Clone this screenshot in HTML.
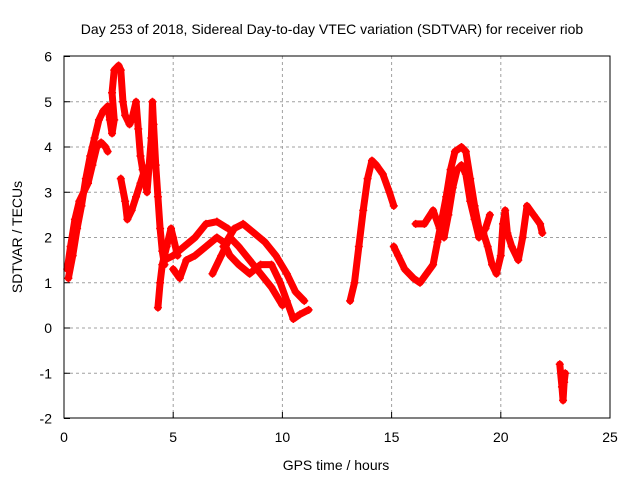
<!DOCTYPE html>
<html><head><meta charset="utf-8"><style>
body{margin:0;background:#fff;}
svg{display:block;font-family:"Liberation Sans",sans-serif;}
</style></head><body>
<svg id="chart" width="640" height="480" viewBox="0 0 640 480">
<text x="332" y="34" font-size="14" text-anchor="middle">Day 253 of 2018, Sidereal Day-to-day VTEC variation (SDTVAR) for receiver riob</text>
<text x="336" y="470" font-size="14" text-anchor="middle">GPS time / hours</text>
<text transform="translate(22,237) rotate(-90)" font-size="14" text-anchor="middle">SDTVAR / TECUs</text>
<g id="grid"></g>
<g id="ticks"></g>
<g id="series"></g>
<rect x="64" y="56" width="546" height="362" fill="none" stroke="#000" stroke-width="1"/>
</svg>
<script>
const xTicks=[0,5,10,15,20,25];
const yTicks=[-2,-1,0,1,2,3,4,5,6];
const seg1=[[0.15,1.3],[0.3,1.8],[0.5,2.4],[0.7,2.8],[0.9,3.0],[1.1,3.2],[1.3,3.6],[1.5,4.0],[1.7,4.1],[1.9,4.0],[2.0,3.9]];
const seg2=[[0.2,1.1],[0.4,1.6],[0.6,2.2],[0.8,2.7],[1.0,3.3],[1.2,3.8],[1.4,4.2],[1.6,4.6],[1.8,4.8],[2.0,4.9],[2.1,4.6],[2.2,4.3],[2.3,4.6],[2.2,5.2],[2.3,5.7],[2.5,5.8],[2.6,5.7],[2.7,5.0],[2.8,4.7],[3.0,4.5],[3.1,4.6],[3.3,5.0],[3.4,4.4],[3.5,3.8],[3.6,3.5],[3.7,3.3],[3.8,3.0],[3.9,3.6],[4.0,4.2],[4.05,5.0],[4.1,4.5],[4.2,3.6],[4.3,2.9],[4.4,2.2],[4.5,1.7],[4.6,1.4]];
const seg3=[[2.6,3.3],[2.8,2.8],[2.9,2.4],[3.1,2.6],[3.3,2.9],[3.5,3.2],[3.7,3.5]];
const seg4=[[4.3,0.45],[4.4,1.0],[4.5,1.4],[4.7,1.8],[4.9,2.2],[5.0,2.0],[5.2,1.6]];
const seg5=[[4.6,1.5],[5.0,1.6],[5.5,1.8],[6.0,2.0],[6.5,2.3],[7.0,2.35],[7.5,2.2]];
const seg6=[[7.3,1.8],[7.8,2.2],[8.2,2.3],[8.7,2.1],[9.2,1.9],[9.7,1.6],[10.2,1.2],[10.6,0.8],[11.0,0.6]];
const seg7=[[5.0,1.3],[5.3,1.1],[5.6,1.5],[6.0,1.6],[6.5,1.8],[7.0,2.0],[7.3,1.9],[7.6,1.6],[8.0,1.4],[8.5,1.2],[9.0,1.4],[9.5,1.4],[9.9,1.0],[10.2,0.6],[10.5,0.2],[10.8,0.3],[11.2,0.4]];
const seg8=[[6.8,1.2],[7.2,1.6],[7.6,2.0],[8.0,1.8],[8.5,1.5],[9.0,1.2],[9.5,0.9],[10.0,0.5]];
const seg9=[[13.1,0.6],[13.3,1.0],[13.5,1.8],[13.7,2.6],[13.9,3.3],[14.1,3.7],[14.3,3.6],[14.6,3.4],[14.9,3.0],[15.1,2.7]];
const seg10=[[15.1,1.8],[15.3,1.6],[15.6,1.3],[16.0,1.1],[16.3,1.0],[16.6,1.2],[16.9,1.4],[17.1,1.9],[17.3,2.4],[17.5,2.9],[17.7,3.5],[17.9,3.9],[18.2,4.0],[18.4,3.9],[18.6,3.3],[18.8,2.7],[19.0,2.2],[19.2,2.1],[19.4,1.8],[19.6,1.4],[19.8,1.2],[20.0,1.6],[20.1,2.3],[20.2,2.6],[20.3,2.1],[20.5,1.8],[20.8,1.5],[21.0,2.0],[21.2,2.7],[21.5,2.5],[21.8,2.3],[21.9,2.1]];
const seg11=[[16.1,2.3],[16.5,2.3],[16.9,2.6],[17.2,2.2],[17.4,2.0],[17.6,2.5],[17.8,3.1],[18.0,3.5],[18.2,3.6],[18.4,3.4],[18.6,2.8],[18.8,2.4],[19.0,2.0],[19.3,2.2],[19.5,2.5]];
const seg12=[[22.7,-0.8],[22.8,-1.3],[22.85,-1.6],[22.9,-1.2],[22.95,-1.0]];
const segments=[seg1,seg2,seg3,seg4,seg5,seg6,seg7,seg8,seg9,seg10,seg11,seg12];

const NS='http://www.w3.org/2000/svg';
function xs(v){return 64+v*(546/25);}
function ys(v){return 328-v*45.25;}
function mk(tag,attrs,parent){const e=document.createElementNS(NS,tag);for(const k in attrs)e.setAttribute(k,attrs[k]);parent.appendChild(e);return e;}
const grid=document.getElementById('grid'),ticks=document.getElementById('ticks'),series=document.getElementById('series');
xTicks.forEach(t=>{
  const x=xs(t);
  if(t>0&&t<25){const g=mk('line',{x1:x,y1:56,x2:x,y2:418,stroke:'#a0a0a0','stroke-dasharray':'3,3'},grid);
  
  }
  const l=mk('line',{x1:x,y1:418,x2:x,y2:412,stroke:'#000'},ticks);
  
  
  const tx=mk('text',{x:x,y:442,'font-size':14,'text-anchor':'middle'},ticks);tx.textContent=t;
  
  
});
yTicks.forEach(t=>{
  const y=ys(t);
  if(t>-2&&t<6){const g=mk('line',{x1:64,y1:y,x2:610,y2:y,stroke:'#a0a0a0','stroke-dasharray':'3,3'},grid);
  
  }
  const l=mk('line',{x1:64,y1:y,x2:70,y2:y,stroke:'#000'},ticks);
  
  
  const tx=mk('text',{x:52,y:y+5,'font-size':14,'text-anchor':'end'},ticks);tx.textContent=t;
  
  
});
segments.forEach(seg=>{
  const pl=mk('polyline',{points:seg.map(p=>xs(p[0])+','+ys(p[1])).join(' '),fill:'none',stroke:'#f00','stroke-width':7,'stroke-linejoin':'round','stroke-linecap':'round'},series);
  
  
  seg.forEach(p=>{
    const x=xs(p[0]),y=ys(p[1]);
    const m=mk('path',{d:`M${x-4},${y}H${x+4}M${x},${y-4}V${y+4}`,stroke:'#f00','stroke-width':1.5},series);
    
    
  });
});
</script>
</body></html>
